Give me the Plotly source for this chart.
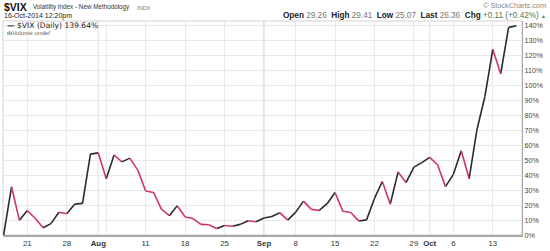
import plotly.graph_objects as go

# ---- data: trading days and % change of $VIX since 16-Jul-2014 ----
jul_days = [16, 17, 18, 21, 22, 23, 24, 25, 28, 29, 30, 31]
aug_days = [1, 4, 5, 6, 7, 8, 11, 12, 13, 14, 15, 18, 19, 20, 21, 22, 25, 26, 27, 28, 29]
sep_days = [2, 3, 4, 5, 8, 9, 10, 11, 12, 15, 16, 17, 18, 19, 22, 23, 24, 25, 26, 29, 30]
oct_days = [1, 2, 3, 6, 7, 8, 9, 10, 13, 14, 15, 16]

dates = ([f"2014-07-{d:02d}" for d in jul_days] + [f"2014-08-{d:02d}" for d in aug_days]
         + [f"2014-09-{d:02d}" for d in sep_days] + [f"2014-10-{d:02d}" for d in oct_days])

pct_change = [
    0.0, 32.2, 9.8, 16.3, 11.2, 4.8, 7.6, 15.2, 14.2, 20.6, 21.1, 54.0,
    54.8, 37.5, 53.4, 48.8, 51.3, 43.3, 29.4, 28.4, 17.2, 12.9, 19.5, 12.0, 11.0,
    7.1, 6.8, 4.3, 6.3, 5.8, 7.1, 9.5, 8.9,
    11.4, 12.4, 14.9, 9.9, 15.1, 22.6, 17.1, 16.4, 20.9, 28.4, 15.8, 15.0, 9.4,
    10.1, 24.4, 35.7, 20.6, 42.1, 35.0, 45.3, 48.3,
    51.8, 46.9, 32.3, 40.5, 56.2, 37.6, 70.6, 92.5, 124.0, 107.5, 138.6, 139.64,
]

# weekly gridline dates with labels ("" = gridline without label)
tick_dates = ["2014-07-21", "2014-07-28", "2014-08-01", "2014-08-04", "2014-08-11",
              "2014-08-18", "2014-08-25", "2014-09-02", "2014-09-08", "2014-09-15",
              "2014-09-22", "2014-09-29", "2014-10-01", "2014-10-06", "2014-10-13"]
tick_labels = ["21", "28", "<b>Aug</b>", "", "11", "18", "25", "<b>Sep</b>", "8", "15",
               "22", "29", "<b>Oct</b>", "6", "13"]
month_dates = ["2014-08-01", "2014-09-02", "2014-10-01"]

y_ticks = list(range(0, 150, 10))

# ---- build ----
x_idx = list(range(len(dates)))
tickvals = [dates.index(d) for d in tick_dates]
month_vals = [dates.index(d) for d in month_dates]

up_x, up_y, dn_x, dn_y = [], [], [], []
for i in range(1, len(pct_change)):
    if pct_change[i] >= pct_change[i - 1]:
        up_x += [x_idx[i - 1], x_idx[i], None]
        up_y += [pct_change[i - 1], pct_change[i], None]
    else:
        dn_x += [x_idx[i - 1], x_idx[i], None]
        dn_y += [pct_change[i - 1], pct_change[i], None]

UP = "#2b2b2b"
DOWN = "#d1365f"

fig = go.Figure()
fig.add_trace(go.Scatter(x=up_x, y=up_y, mode="lines", line=dict(color=UP, width=1.6),
                         hoverinfo="skip", showlegend=False))
fig.add_trace(go.Scatter(x=dn_x, y=dn_y, mode="lines", line=dict(color=DOWN, width=1.6),
                         hoverinfo="skip", showlegend=False))

W, H = 550, 251
L, R, T, B = 3, 28, 21, 14
PW, PH = W - L - R, H - T - B


def px(x):
    return (x - L) / PW


def py(y):
    return (H - B - y) / PH


for mv in month_vals:
    fig.add_shape(type="line", xref="x", yref="paper", x0=mv, x1=mv, y0=0, y1=1,
                  line=dict(color="#c9c9c9", width=1), layer="below")

# frame
fig.add_shape(type="rect", xref="paper", yref="paper", x0=0, x1=1, y0=0, y1=1,
              line=dict(color="#d0d0d0", width=1), layer="below")

FONT = "Liberation Sans, Arial, sans-serif"
anns = [
    dict(x=px(1.5), y=py(6.5), text="<b>$VIX</b>", size=10.5, color="#111"),
    dict(x=px(31), y=py(7), text="Volatility Index - New Methodology", size=6.3, color="#333"),
    dict(x=px(135), y=py(7.5), text="INDX", size=5.5, color="#777"),
    dict(x=px(2), y=py(15.5), text="16-Oct-2014 12:20pm", size=7.0, color="#222"),
]
for a in anns:
    fig.add_annotation(x=a["x"], y=a["y"], xref="paper", yref="paper", text=a["text"],
                       showarrow=False, xanchor="left", yanchor="middle",
                       font=dict(family=FONT, size=a["size"], color=a["color"]))

fig.add_annotation(x=px(548), y=py(5), xref="paper", yref="paper",
                   text="© StockCharts.com", showarrow=False, xanchor="right", yanchor="middle",
                   font=dict(family=FONT, size=7.3, color="#888"))
ohlc = ("<b>Open</b> <span style='color:#777'>29.26</span>  <b>High</b> "
        "<span style='color:#777'>29.41</span>  <b>Low</b> <span style='color:#777'>25.07</span>  "
        "<b>Last</b> <span style='color:#777'>26.36</span>  <b>Chg</b> "
        "<span style='color:#4f7a4f'>+0.11 (+0.42%)</span> <span style='color:#4f7a4f;font-size:5px'>▲</span>")
fig.add_annotation(x=px(548), y=py(15.5), xref="paper", yref="paper", text=ohlc,
                   showarrow=False, xanchor="right", yanchor="middle",
                   font=dict(family=FONT, size=8.2, color="#222"))

# legend-like labels inside plot
fig.add_annotation(x=px(5), y=py(26), xref="paper", yref="paper",
                   text="<b>—</b> $VIX (Daily) 139.64%", showarrow=False,
                   xanchor="left", yanchor="middle",
                   font=dict(family="DejaVu Sans, Verdana, sans-serif", size=7.6, color="#222"))
fig.add_annotation(x=px(5), y=py(33), xref="paper", yref="paper",
                   text="<b>ılı</b>Volume undef", showarrow=False,
                   xanchor="left", yanchor="middle",
                   font=dict(family=FONT, size=6.2, color="#666"))

fig.update_layout(
    width=W, height=H,
    margin=dict(l=L, r=R, t=T, b=B, pad=0),
    paper_bgcolor="white", plot_bgcolor="white",
    font=dict(family=FONT, size=8, color="#333"),
    showlegend=False,
    xaxis=dict(range=[-0.08, 65.7], tickmode="array", tickvals=tickvals, ticktext=tick_labels,
               showgrid=True, gridcolor="#e9e9e9", gridwidth=1, zeroline=False,
               showline=True, linecolor="#a8a8a8", linewidth=2, ticks="",
               tickfont=dict(family=FONT, size=7.8, color="#333")),
    yaxis=dict(range=[0, PH / 1.512], side="right", tickmode="array", tickvals=y_ticks,
               ticktext=[f"{v}%" for v in y_ticks], showgrid=True, gridcolor="#e9e9e9",
               zeroline=False, showline=True, linecolor="#a8a8a8", linewidth=1, ticks="",
               tickfont=dict(family=FONT, size=7.2, color="#444")),
)

fig.write_html("out.html")
